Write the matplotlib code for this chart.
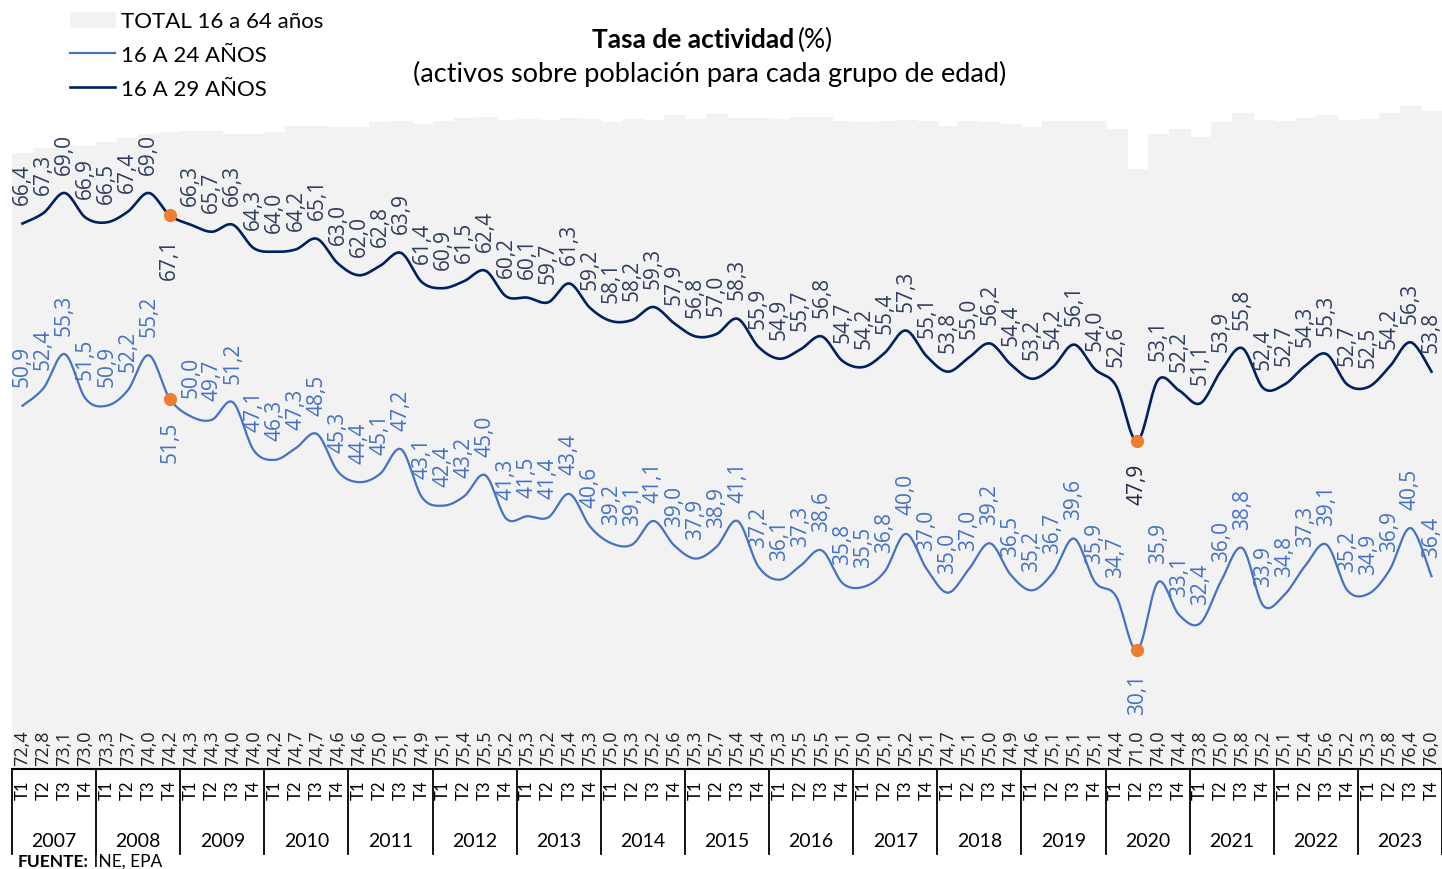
import numpy as np
import matplotlib.pyplot as plt
from matplotlib.transforms import blended_transform_factory
from matplotlib.lines import Line2D

years = [str(y) for y in range(2007, 2024)]
quarters = ['T1', 'T2', 'T3', 'T4']

total = [72.4, 72.8, 73.1, 73.0, 73.3, 73.7, 74.0, 74.2, 74.3, 74.3, 74.0, 74.0,
         74.2, 74.7, 74.7, 74.6, 74.6, 75.0, 75.1, 74.9, 75.1, 75.4, 75.5, 75.2,
         75.3, 75.2, 75.4, 75.3, 75.0, 75.3, 75.2, 75.6, 75.3, 75.7, 75.4, 75.4,
         75.3, 75.5, 75.5, 75.1, 75.0, 75.1, 75.2, 75.1, 74.7, 75.1, 75.0, 74.9,
         74.6, 75.1, 75.1, 75.1, 74.4, 71.0, 74.0, 74.4, 73.8, 75.0, 75.8, 75.2,
         75.1, 75.4, 75.6, 75.2, 75.3, 75.8, 76.4, 76.0]

g16_24 = [50.9, 52.4, 55.3, 51.5, 50.9, 52.2, 55.2, 51.5, 50.0, 49.7, 51.2, 47.1,
          46.3, 47.3, 48.5, 45.3, 44.4, 45.1, 47.2, 43.1, 42.4, 43.2, 45.0, 41.3,
          41.5, 41.4, 43.4, 40.6, 39.2, 39.1, 41.1, 39.0, 37.9, 38.9, 41.1, 37.2,
          36.1, 37.3, 38.6, 35.8, 35.5, 36.8, 40.0, 37.0, 35.0, 37.0, 39.2, 36.5,
          35.2, 36.7, 39.6, 35.9, 34.7, 30.1, 35.9, 33.1, 32.4, 36.0, 38.8, 33.9,
          34.8, 37.3, 39.1, 35.2, 34.9, 36.9, 40.5, 36.4]

g16_29 = [66.4, 67.3, 69.0, 66.9, 66.5, 67.4, 69.0, 67.1, 66.3, 65.7, 66.3, 64.3,
          64.0, 64.2, 65.1, 63.0, 62.0, 62.8, 63.9, 61.4, 60.9, 61.5, 62.4, 60.2,
          60.1, 59.7, 61.3, 59.2, 58.1, 58.2, 59.3, 57.9, 56.8, 57.0, 58.3, 55.9,
          54.9, 55.7, 56.8, 54.7, 54.2, 55.4, 57.3, 55.1, 53.8, 55.0, 56.2, 54.4,
          53.2, 54.2, 56.1, 54.0, 52.6, 47.9, 53.1, 52.2, 51.1, 53.9, 55.8, 52.4,
          52.7, 54.3, 55.3, 52.7, 52.5, 54.2, 56.3, 53.8]

# 2008 T4 and 2020 T2
highlight = [7, 53]

LBL_FONT = 'Open Sans'
TXT_FONT = 'Lato'


def fmt(v):
    return ('%.1f' % v).replace('.', ',')


def smooth(x, y, n=16):
    # catmull-rom path like excel's smoothed lines
    pts = np.column_stack([x, y]).astype(float)
    p = np.vstack([pts[0], pts, pts[-1]])
    t = np.linspace(0, 1, n, endpoint=False)[:, None]
    out = []
    for i in range(1, len(p) - 2):
        p0, p1, p2, p3 = p[i - 1], p[i], p[i + 1], p[i + 2]
        out.append(0.5 * (2 * p1 + (-p0 + p2) * t
                          + (2 * p0 - 5 * p1 + 4 * p2 - p3) * t ** 2
                          + (-p0 + 3 * p1 - 3 * p2 + p3) * t ** 3))
    out.append(pts[-1:])
    s = np.vstack(out)
    return s[:, 0], s[:, 1]


fig = plt.figure(figsize=(14.42, 8.70), dpi=100)
ax = fig.add_axes([12 / 1442, 100 / 870, 1430 / 1442, 770 / 870])
x = np.arange(len(total))

bars = ax.bar(x, total, width=1.0, bottom=0, color='#F2F2F2', edgecolor='#F2F2F2',
              linewidth=0.8, label='TOTAL 16 a 64 años', zorder=1)

sx, sy = smooth(x, g16_24)
l24, = ax.plot(sx, sy, color='#4472C4', lw=1.6, label='16 A 24 AÑOS', zorder=3)
sx, sy = smooth(x, g16_29)
l29, = ax.plot(sx, sy, color='#002060', lw=1.9, label='16 A 29 AÑOS', zorder=3)

for s in (g16_24, g16_29):
    ax.plot([x[i] for i in highlight], [s[i] for i in highlight], 'o',
            color='#ED7D31', ms=8.5, zorder=4)

for series, col in ((g16_24, '#4472C4'), (g16_29, '#2E3C5E')):
    for i, v in enumerate(series):
        if i in highlight:
            c = '#1E2A44' if series is g16_29 and i == 53 else col
            ax.annotate(fmt(v), (i, v), xytext=(0, -16), textcoords='offset points',
                        rotation=90, ha='center', va='top', fontsize=15,
                        family=LBL_FONT, color=c, zorder=5)
        else:
            ax.annotate(fmt(v), (i, v), xytext=(0, 14), textcoords='offset points',
                        rotation=90, ha='center', va='bottom', fontsize=15,
                        family=LBL_FONT, color=col, zorder=5)

for i, v in enumerate(total):
    ax.annotate(fmt(v), (i, 20), xytext=(0, 3), textcoords='offset points',
                rotation=90, ha='center', va='bottom', fontsize=13,
                family=LBL_FONT, color='#222222', zorder=5)

ax.set_xlim(-0.5, len(total) - 0.5)
ax.set_ylim(20, 85.5)
ax.set_yticks([])
ax.set_xticks([])
for sp in ('left', 'right', 'top'):
    ax.spines[sp].set_visible(False)
ax.spines['bottom'].set_color('black')
ax.spines['bottom'].set_linewidth(1.5)

tr = blended_transform_factory(ax.transData, ax.transAxes)
for k in range(len(years) + 1):
    ax.add_line(Line2D([-0.5 + 4 * k] * 2, [0, -85 / 770], transform=tr,
                       color='black', lw=1.3, clip_on=False))
for k, yr in enumerate(years):
    for q, qt in enumerate(quarters):
        ax.text(4 * k + q, -20 / 770, qt, transform=tr, rotation=90,
                ha='center', va='center', fontsize=12, family=TXT_FONT)
    ax.text(4 * k + 1.5, -72 / 770, yr, transform=tr, ha='center', va='center',
            fontsize=14, family=TXT_FONT)

leg = ax.legend(handles=[bars, l24, l29], loc='upper left', bbox_to_anchor=(58 / 1442, 1.0),
                bbox_transform=fig.transFigure, frameon=False,
                prop={'family': TXT_FONT, 'size': 16}, handlelength=2.0,
                handletextpad=0.3, labelspacing=0.62, borderaxespad=0.15)

fig.text(794 / 1442, 1 - 40 / 870, 'Tasa de actividad', ha='right', va='center',
         fontsize=19, fontweight='bold', family=TXT_FONT)
fig.text(798 / 1442, 1 - 40 / 870, '(%)', ha='left', va='center', fontsize=19, family=TXT_FONT)
fig.text(710 / 1442, 1 - 74 / 870, '(activos sobre población para cada grupo de edad)',
         ha='center', va='center', fontsize=19.5, family=TXT_FONT)

f1 = fig.text(18 / 1442, 1 - 862 / 870, 'FUENTE:', ha='left', va='center', fontsize=12.5,
              fontweight='bold', family=TXT_FONT)
ax.annotate(' INE, EPA', xy=(1, 0), xycoords=f1, va='bottom', ha='left', fontsize=12.5,
            family=TXT_FONT, annotation_clip=False)

fig.savefig('out.png', dpi=100)
